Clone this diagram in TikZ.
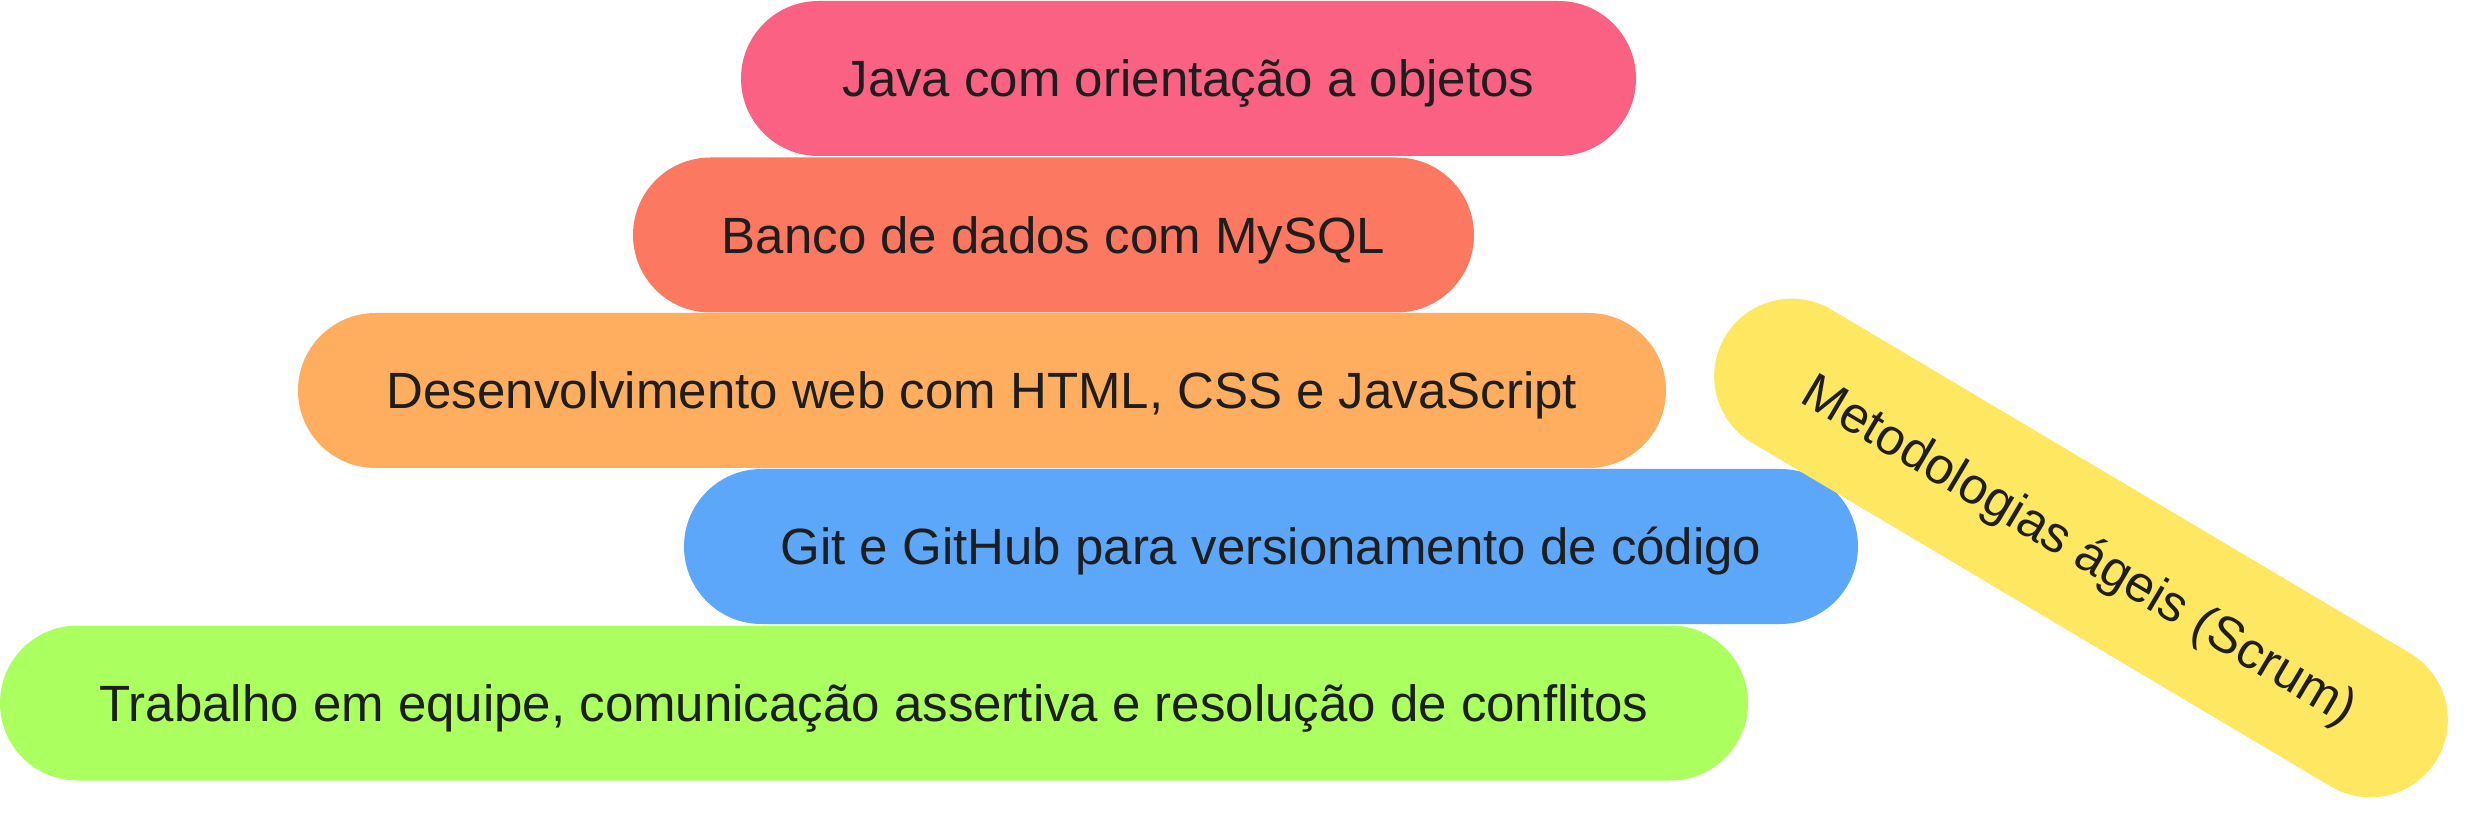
\documentclass[tikz,border=0pt]{standalone}
\usepackage{fontspec}
\setmainfont{Liberation Sans}
\usetikzlibrary{shapes.misc}
\definecolor{cpink}{HTML}{FA6182}
\definecolor{cred}{HTML}{FC7861}
\definecolor{corange}{HTML}{FEAE5E}
\definecolor{cblue}{HTML}{5CA7FA}
\definecolor{cgreen}{HTML}{ABFF5F}
\definecolor{cyellow}{HTML}{FEE761}
\definecolor{txt}{HTML}{1E1E1E}
\begin{document}
\begin{tikzpicture}[x=0.5pt,y=-0.5pt,
  pill/.style={rounded rectangle, minimum height=77.5pt, inner sep=0pt, text=txt,
    font=\fontsize{25.5}{30}\selectfont, text height=18.3pt, text depth=0pt}]
\useasboundingbox (0,0) rectangle (2474,828);
\fill[white] (0,0) rectangle (2474,828);
\node[pill, fill=cpink, minimum width=447.5pt] (java) at (1188.5,78.5) {Java com orientação a objetos};
\node[pill, fill=cred, minimum width=420.5pt] (banco) at (1053.5,235) {Banco de dados com MySQL};
\node[pill, fill=corange, minimum width=684pt] (web) at (982,390.5) {Desenvolvimento web com HTML, CSS e JavaScript};
\node[pill, fill=cblue, minimum width=587pt] (git) at (1271,546.5) {Git e GitHub para versionamento de código};
\node[pill, fill=cgreen, minimum width=874pt] (team) at (874,703) {Trabalho em equipe, comunicação assertiva e resolução de conflitos};
\node[pill, fill=cyellow, minimum width=414pt, rotate=-30.7] (agile) at (2081,548) {Metodologias ágeis (Scrum)};
\end{tikzpicture}
\end{document}
